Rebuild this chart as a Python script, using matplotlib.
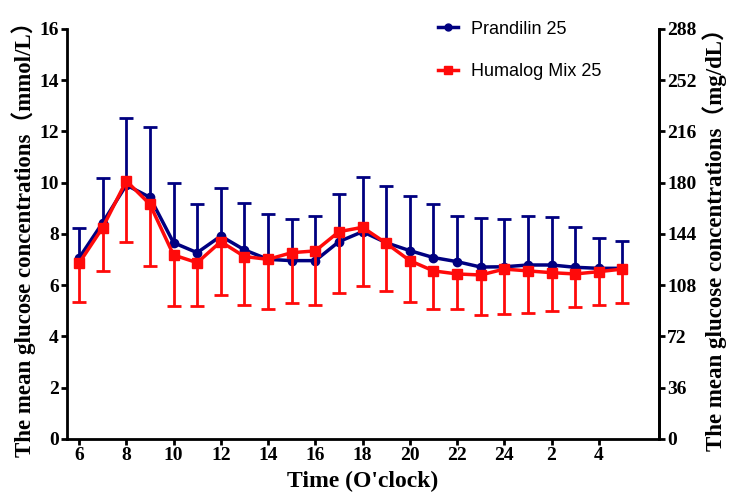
import numpy as np
import matplotlib
matplotlib.use("Agg")
import matplotlib.pyplot as plt
from matplotlib.lines import Line2D

# hours from 6 o'clock to 5 o'clock next morning
hours = np.arange(6, 30)
tick_hours = [6, 8, 10, 12, 14, 16, 18, 20, 22, 24, 26, 28]
tick_labels = ["6", "8", "10", "12", "14", "16", "18", "20", "22", "24", "2", "4"]

prandilin_mean = [7.06, 8.44, 9.91, 9.43, 7.66, 7.27, 7.92, 7.38, 7.01, 6.96, 6.96, 7.70,
                  8.09, 7.66, 7.35, 7.08, 6.92, 6.71, 6.72, 6.79, 6.79, 6.70, 6.66, 6.66]
prandilin_upper = [8.25, 10.20, 12.54, 12.16, 9.98, 9.18, 9.78, 9.22, 8.78, 8.57, 8.70, 9.55,
                   10.24, 9.87, 9.48, 9.17, 8.72, 8.61, 8.60, 8.72, 8.68, 8.26, 7.86, 7.73]
humalog_mean = [6.86, 8.25, 10.07, 9.16, 7.18, 6.88, 7.70, 7.12, 7.01, 7.27, 7.34, 8.09,
                8.26, 7.64, 6.96, 6.56, 6.44, 6.40, 6.63, 6.56, 6.49, 6.44, 6.53, 6.63]
humalog_lower = [5.35, 6.57, 7.67, 6.74, 5.19, 5.19, 5.61, 5.23, 5.07, 5.31, 5.23, 5.71,
                 5.97, 5.79, 5.33, 5.07, 5.07, 4.83, 4.89, 4.93, 5.01, 5.16, 5.23, 5.30]

blue = "#000080"
red = "#ff0a0a"
serif = ["Liberation Serif", "Noto Sans CJK SC"]

plt.rcParams["font.family"] = serif
plt.rcParams["font.weight"] = "bold"

fig = plt.figure(figsize=(7.37, 5.04), dpi=100)
ax = fig.add_axes([0.0909, 0.129, 0.803, 0.8135])

pm = np.array(prandilin_mean)
pu = np.array(prandilin_upper)
hm = np.array(humalog_mean)
hl = np.array(humalog_lower)

# Prandilin: upper error bars only
ax.vlines(hours, pm, pu, color=blue, lw=2, zorder=2)
ax.plot(hours, pu, ls="none", marker="_", ms=10, mew=2, color=blue, zorder=2)
ax.plot(hours, pm, color=blue, lw=2.5, marker="o", ms=6, zorder=3)

# Humalog: lower error bars only
ax.vlines(hours, hl, hm, color=red, lw=2, zorder=4)
ax.plot(hours, hl, ls="none", marker="_", ms=10, mew=2, color=red, zorder=4)
ax.plot(hours, hm, color=red, lw=2.5, marker="s", ms=7, zorder=5)

ax.set_xlim(5.49, 30.54)
ax.set_ylim(0, 16)
ax.set_yticks(np.arange(0, 17, 2))
ax.set_xticks(tick_hours)
ax.set_xticklabels(tick_labels)

for side in ["left", "right", "bottom"]:
    ax.spines[side].set_linewidth(2)
ax.spines["top"].set_visible(False)
ax.tick_params(width=2, length=4, labelsize=14, pad=2)

ax2 = ax.twinx()
ax2.set_ylim(0, 288)
ax2.set_yticks(np.arange(0, 289, 36))
ax2.spines["top"].set_visible(False)
ax2.spines["right"].set_linewidth(2)
ax2.tick_params(width=2, length=4, labelsize=14, pad=2)

ax.set_xlabel("Time (O'clock)", fontsize=17, fontweight="bold", labelpad=5)
ax.set_ylabel("The mean glucose concentrations（mmol/L）", fontsize=16.5,
              fontweight="bold", labelpad=2)
ax2.set_ylabel("The mean glucose concentrations（mg/dL）", fontsize=16.5,
               fontweight="bold", labelpad=4)

handles = [
    Line2D([], [], color=blue, lw=2.5, marker="o", ms=5),
    Line2D([], [], color=red, lw=2.5, marker="s", ms=6),
]
ax.legend(handles, ["Prandilin 25", "Humalog Mix 25"], loc="upper left",
          bbox_to_anchor=(0.6, 1.06), frameon=False, handlelength=1.1,
          handletextpad=0.7, labelspacing=1.4,
          prop={"family": "Liberation Sans", "size": 13, "weight": "normal"})

fig.savefig("out.png", dpi=100)
